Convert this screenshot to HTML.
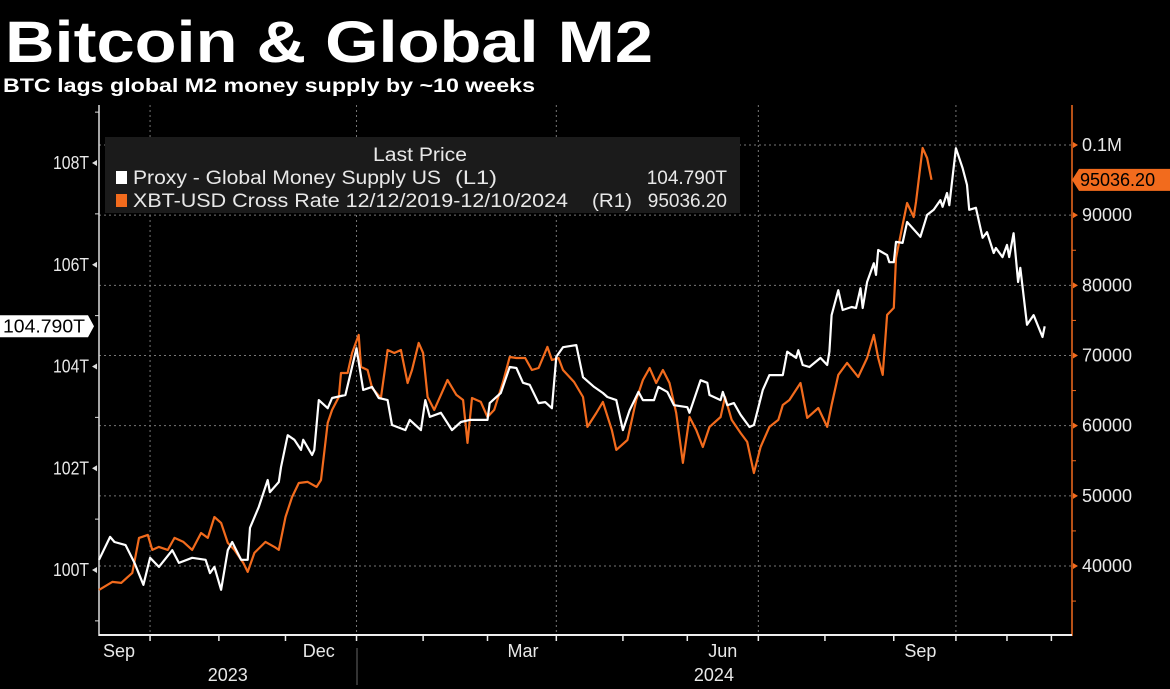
<!DOCTYPE html>
<html><head><meta charset="utf-8"><style>
body{margin:0;background:#000;}
svg{display:block;font-family:"Liberation Sans",sans-serif;}
</style></head><body>
<svg id="chart" width="1170" height="689" viewBox="0 0 1170 689" xmlns="http://www.w3.org/2000/svg">
<rect width="1170" height="689" fill="#000"/>
<text x="5" y="62" fill="#fff" font-size="58" font-weight="bold" textLength="648" lengthAdjust="spacingAndGlyphs">Bitcoin &amp; Global M2</text>
<text x="3" y="92" fill="#fff" font-size="19" font-weight="bold" textLength="532" lengthAdjust="spacingAndGlyphs">BTC lags global M2 money supply by ~10 weeks</text>
<g id="grid"></g>
<g id="axes"></g>
<g id="series"></g>
<g>
<rect x="105" y="137" width="635" height="76" fill="#1b1b1b"/>
<text x="373" y="161" fill="#e8e8e8" font-size="19" textLength="94" lengthAdjust="spacingAndGlyphs">Last Price</text>
<rect x="116" y="171" width="11" height="13" fill="#fff"/>
<text x="133" y="184" fill="#e8e8e8" font-size="19" textLength="308" lengthAdjust="spacingAndGlyphs">Proxy - Global Money Supply US</text>
<text x="455" y="184" fill="#e8e8e8" font-size="19" textLength="42" lengthAdjust="spacingAndGlyphs">(L1)</text>
<text x="727" y="184" fill="#e8e8e8" font-size="19" text-anchor="end">104.790T</text>
<rect x="116" y="194" width="11" height="13" fill="#f26b1d"/>
<text x="133" y="207" fill="#e8e8e8" font-size="19" textLength="435" lengthAdjust="spacingAndGlyphs">XBT-USD Cross Rate 12/12/2019-12/10/2024</text>
<text x="592" y="207" fill="#e8e8e8" font-size="19" textLength="40" lengthAdjust="spacingAndGlyphs">(R1)</text>
<text x="727" y="207" fill="#e8e8e8" font-size="19" text-anchor="end">95036.20</text>
</g>
</svg>
<script>
const m2Days=[0,5,7,12,16,20,23,27,33,36,42,48,50,52,55,58,60,64,67,68,72,76,77,81,82,85,88,91,92,96,97,99,103,105,111,116,119,123,126,130,132,138,140,145,147,149,154,159,163,167,175,176,181,185,188,191,194,198,201,204,206,209,215,218,223,227,229,233,236,239,243,245,250,252,256,259,265,266,271,274,275,280,281,283,286,289,293,295,299,302,308,310,314,315,317,320,325,328,329,330,333,335,339,341,343,344,346,349,350,351,355,356,358,359,362,364,370,373,376,379,380,382,383,386,389,391,392,395,398,400,403,404,407,409,410,412,414,415,418,421,425,426];
const m2Values=[100.20,100.65,100.55,100.49,100.14,99.71,100.24,100.06,100.39,100.14,100.24,100.20,99.94,100.06,99.61,100.39,100.55,100.20,100.20,100.83,101.24,101.77,101.53,101.73,102.02,102.65,102.56,102.36,102.56,102.26,102.36,103.34,103.18,103.38,103.44,104.36,103.54,103.60,103.38,103.34,102.85,102.75,102.95,102.75,103.34,103.01,103.09,102.75,102.91,102.95,102.95,103.28,103.48,103.99,103.97,103.68,103.64,103.28,103.30,103.18,104.19,104.38,104.42,103.79,103.60,103.48,103.40,103.34,102.75,103.14,103.50,103.34,103.34,103.60,103.50,103.24,103.20,103.09,103.73,103.68,103.44,103.34,103.50,103.24,103.28,103.05,102.81,102.85,103.54,103.83,103.83,104.29,104.17,104.32,104.03,103.99,104.17,104.03,104.29,105.01,105.50,105.11,105.17,105.15,105.54,105.15,105.66,106.03,105.80,106.29,106.19,106.05,106.05,106.45,106.43,106.84,106.55,106.98,107.08,107.27,107.14,107.41,107.17,108.29,107.90,107.57,107.08,107.12,106.53,106.64,106.23,106.33,106.15,106.39,106.15,106.62,105.66,105.94,104.82,105.01,104.58,104.79];
const btcDays=[0,6,10,15,18,22,24,27,31,34,38,42,46,49,52,55,58,61,65,67,70,75,79,81,84,87,90,94,98,100,103,105,108,109,112,114,117,118,121,123,127,130,133,136,139,141,144,146,148,151,154,157,161,164,166,168,172,175,178,182,185,188,192,195,198,202,204,207,209,214,218,220,224,227,231,233,238,242,245,248,251,254,257,260,263,266,269,272,275,280,282,285,289,292,295,298,302,306,308,311,316,319,324,328,330,333,337,342,346,349,351,353,355,358,359,362,364,367,368,371,373,375];
const btcValues=[36590,37730,37590,39010,44000,44430,42290,42720,42290,44000,43430,42290,44710,44000,46990,46140,43290,42290,40440,39160,41860,43430,42720,42290,46990,49840,51830,51980,51270,52260,60390,62240,64090,67510,67510,70360,72930,68370,67940,65370,63950,70790,70360,70790,66080,67940,71790,70360,64090,62240,64380,66510,64380,63660,57540,63950,63380,61240,62240,66230,69790,69650,69650,67940,68220,71220,69360,69650,67940,66230,64090,59820,61810,63380,59390,56540,57960,63660,66510,68220,66080,67940,66080,61810,54690,61240,59390,56960,59820,61240,64090,60820,58960,57680,53260,56960,59820,60820,62950,63660,66080,61100,62520,59820,62950,67230,68940,66940,69650,72930,69650,67230,75780,76780,83900,88600,91740,89740,91880,99570,98150,95036];
const leftTicks=[100,102,104,106,108];
const leftTickLabels=["100T","102T","104T","106T","108T"];
const rightTicks=[40000,50000,60000,70000,80000,90000,100000];
const rightTickLabels=["40000","50000","60000","70000","80000","90000","0.1M"];
const monthLabels=["Sep","Dec","Mar","Jun","Sep"];
const monthLabelDays=[9,99,191,281,370];
const gridDays=[23,116,206,297,386];
const minorTickDays=[54,84,146,175,236,265,327,358,409,429];
const yearLabels=["2023","2024"];
const yearLabelDays=[58,277];

const NS="http://www.w3.org/2000/svg";
const X0=99,DX=2.22;
const xS=d=>X0+d*DX;
const yL=v=>570-(v-100)*50.875;
const yR=v=>566-(v-40000)*0.0070167;
function mk(tag,attrs,parent,text){const e=document.createElementNS(NS,tag);for(const k in attrs)e.setAttribute(k,attrs[k]);if(text!==undefined)e.textContent=text;parent.appendChild(e);return e;}
const grid=document.getElementById('grid'),axes=document.getElementById('axes'),series=document.getElementById('series'),svg=document.getElementById('chart');
rightTicks.forEach((v,i)=>{const l=mk('line',{x1:X0,x2:1072,y1:yR(v),y2:yR(v),stroke:'#777','stroke-width':1,'stroke-dasharray':'2,3'},grid);

});
gridDays.forEach(d=>{const l=mk('line',{x1:xS(d),x2:xS(d),y1:105,y2:635,stroke:'#777','stroke-width':1,'stroke-dasharray':'2,3'},grid);

});
mk('line',{x1:X0,x2:X0,y1:105,y2:636,stroke:'#ddd','stroke-width':1.5},axes);
mk('line',{x1:1072,x2:1072,y1:105,y2:636,stroke:'#f26b1d','stroke-width':1.5},axes);
mk('line',{x1:X0,x2:1072,y1:635,y2:635,stroke:'#eee','stroke-width':2},axes);
leftTicks.forEach((v,i)=>{const y=yL(v);
mk('path',{d:`M${X0-7},${y} l5,-3 v6 z`,fill:'#ddd'},axes);
mk('line',{x1:X0-4,x2:X0,y1:yL(v+1),y2:yL(v+1),stroke:'#ddd'},axes);
const t=mk('text',{x:X0-10,y:y+6,fill:'#e8e8e8','font-size':18,'text-anchor':'end',textLength:36,lengthAdjust:'spacingAndGlyphs'},axes,leftTickLabels[i]);

});
mk('line',{x1:X0-4,x2:X0,y1:yL(99),y2:yL(99),stroke:'#ddd'},axes);
rightTicks.forEach((v,i)=>{const y=yR(v);
mk('path',{d:`M1073,${y-3} l5,3 l-5,3 z`,fill:'#f26b1d'},axes);
mk('line',{x1:1072,x2:1076,y1:yR(v-5000),y2:yR(v-5000),stroke:'#f26b1d'},axes);
const t=mk('text',{x:1082,y:y+6,fill:'#e8e8e8','font-size':18},axes,rightTickLabels[i]);

});
gridDays.concat(minorTickDays).forEach(d=>mk('line',{x1:xS(d),x2:xS(d),y1:635,y2:641,stroke:'#eee','stroke-width':1.5},axes));
monthLabels.forEach((m,i)=>{const t=mk('text',{x:xS(monthLabelDays[i]),y:657,fill:'#e8e8e8','font-size':18,'text-anchor':'middle'},axes,m);

});
yearLabels.forEach((m,i)=>{const t=mk('text',{x:xS(yearLabelDays[i]),y:681,fill:'#e8e8e8','font-size':18,'text-anchor':'middle'},axes,m);

});
mk('line',{x1:357,x2:357,y1:648,y2:685,stroke:'#666'},axes);
const pathOf=(days,vals,f)=>days.map((d,i)=>(i?'L':'M')+xS(d).toFixed(1)+','+f(vals[i]).toFixed(1)).join('');
const pb=mk('path',{d:pathOf(btcDays,btcValues,yR),fill:'none',stroke:'#f26b1d','stroke-width':2.2,'stroke-linejoin':'round'},series);


const pm=mk('path',{d:pathOf(m2Days,m2Values,yL),fill:'none',stroke:'#fff','stroke-width':2.2,'stroke-linejoin':'round'},series);


const ly=yL(m2Values[m2Values.length-1]);
const lb=mk('g',{},svg);


mk('path',{d:`M0,${ly-11} H88 l6,11 l-6,11 H0 z`,fill:'#fff'},lb);
mk('text',{x:3,y:ly+6,fill:'#000','font-size':18,textLength:82,lengthAdjust:'spacingAndGlyphs'},lb,'104.790T');
const ry=yR(btcValues[btcValues.length-1]);
const rb=mk('g',{},svg);


mk('path',{d:`M1072,${ry} l7,-11 H1170 v22 H1079 z`,fill:'#f26b1d'},rb);
mk('text',{x:1080,y:ry+6,fill:'#000','font-size':18},rb,'95036.20');
</script>
</body></html>
